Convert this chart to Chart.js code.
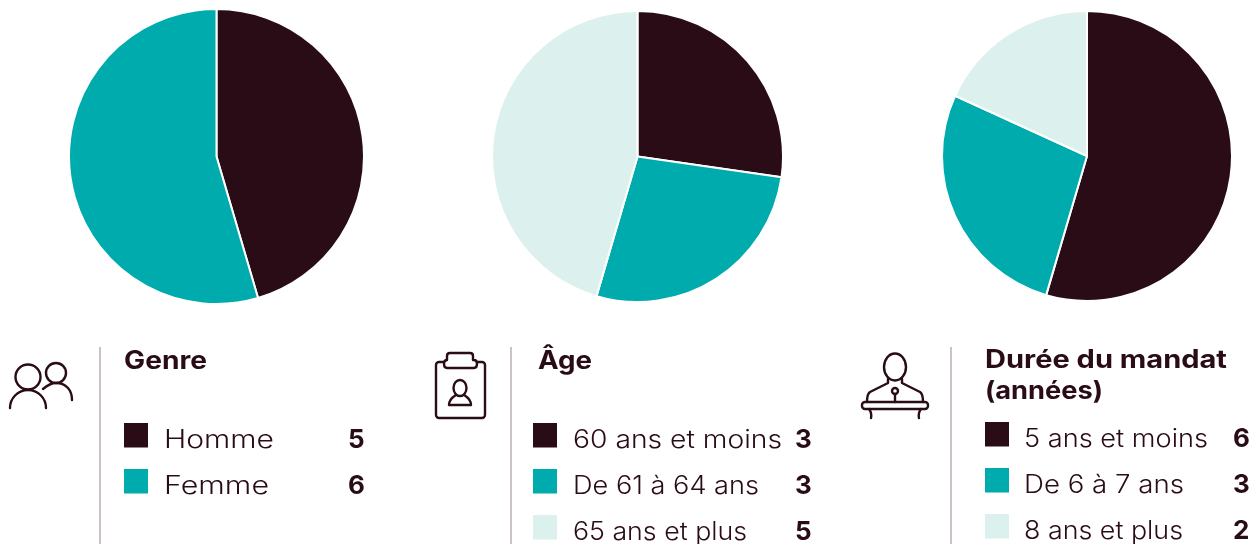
<!DOCTYPE html>
<html>
<head>
<meta charset="utf-8">
<script src="https://cdn.jsdelivr.net/npm/chart.js@4"></script>
<style>
html, body { margin: 0; padding: 0; background: #fff; overflow: hidden; }
#page { position: relative; width: 1259px; height: 544px; }
canvas { position: absolute; }
svg { position: absolute; left: 0; top: 0; }
text { font-family: Inter, "Open Sans", sans-serif; fill: #2a0c16; }
.title { font-size: 25px; font-weight: 700; }
.label { font-size: 25px; font-weight: 300; }
.value { font-size: 26px; font-weight: 700; }
.icon { fill: none; stroke: #2a0c16; stroke-width: 2.4; stroke-linecap: round; stroke-linejoin: round; }
</style>
</head>
<body>
<div id="page">
<canvas id="pie1"></canvas>
<canvas id="pie2"></canvas>
<canvas id="pie3"></canvas>
<svg id="overlay" width="1259" height="544">
	<path class="icon" d="M10 408a18 18 0 0 1 36 0"/>
	<circle class="icon" cx="28" cy="377" r="12.5"/>
	<circle class="icon" cx="56" cy="373" r="10"/>
	<path class="icon" d="M43 389Q50 383 56 383C66 383 72 390 72 400"/>
	<rect class="icon" x="436" y="362" width="49" height="56" rx="3"/>
	<path class="icon" style="fill:#fff" d="M447 360V356Q447 353 450 353H470Q473 353 473 356V360H474Q477 360 477 364T474 368H447Q444 368 444 364T447 360Z"/>
	<ellipse class="icon" cx="460" cy="388" rx="6.5" ry="8"/>
	<path class="icon" d="M449 405C449 399 453 397 456 395M471 405C471 399 467 397 464 395M449 405H471"/>
	<ellipse class="icon" cx="895" cy="367" rx="11" ry="13.5"/>
	<path class="icon" d="M888 379V383L870 392Q867 394 867 402M902 379V383L920 392Q923 394 923 402"/>
	<circle class="icon" cx="895" cy="391" r="3"/>
	<path class="icon" d="M895 394V402"/>
	<rect class="icon" x="862" y="402" width="66" height="7" rx="3"/>
	<path class="icon" d="M869 409Q872 413 871 418M921 409Q918 413 919 418"/>
</svg>
</div>
<script>
'use strict';

var colors = ['#2a0c16', '#00abae', '#dcf0ee'];

var genreLabels = ['Homme', 'Femme'];
var genreValues = [5, 6];
var ageLabels = ['60 ans et moins', 'De 61 à 64 ans', '65 ans et plus'];
var ageValues = [3, 3, 5];
var mandatLabels = ['5 ans et moins', 'De 6 à 7 ans', '8 ans et plus'];
var mandatValues = [6, 3, 2];

// Pies

function makePie(id, left, top, size, labels, values) {
	var el = document.getElementById(id);
	el.width = size;
	el.height = size;
	el.style.left = left + 'px';
	el.style.top = top + 'px';
	return new Chart(el, {
		type: 'pie',
		data: {
			labels: labels,
			datasets: [{
				data: values,
				backgroundColor: colors.slice(0, values.length),
				borderColor: '#fff',
				borderWidth: 2
			}]
		},
		options: {
			responsive: false,
			animation: false,
			layout: { padding: 0 },
			plugins: { legend: { display: false }, tooltip: { enabled: false } }
		}
	});
}

makePie('pie1', 68, 8, 297, genreLabels, genreValues);
makePie('pie2', 491, 10, 293, ageLabels, ageValues);
makePie('pie3', 941, 10, 292, mandatLabels, mandatValues);

// Legends, drawn as svg text. Inter is narrower than the original face, so each string
// gets stretched to the width it has in the picture.

var svg = document.getElementById('overlay');

function add(tag, attrs, content) {
	var node = document.createElementNS('http://www.w3.org/2000/svg', tag);
	Object.keys(attrs).forEach(function (k) { node.setAttribute(k, attrs[k]); });
	if (content !== undefined) node.textContent = content;
	svg.appendChild(node);
}

function text(x, y, cls, width, content) {
	add('text', { x: x, y: y, 'class': cls, textLength: width, lengthAdjust: 'spacingAndGlyphs' }, content);
}

function legend(opts, labels, values) {
	add('line', { x1: opts.rule, x2: opts.rule, y1: 347, y2: 544, stroke: '#b9aeb1', 'stroke-width': 1.5 });
	labels.forEach(function (label, i) {
		var base = opts.rows[i];
		add('rect', { x: opts.box, y: base - 25, width: 24, height: 24.5, fill: colors[i] });
		text(opts.text, base, 'label', opts.widths[i], label);
		add('text', { x: opts.num, y: base, 'class': 'value' }, values[i]);
	});
}

text(124, 369, 'title', 83, 'Genre');
text(538, 369, 'title', 54, 'Âge');
text(985, 368, 'title', 242, 'Durée du mandat');
text(985, 399, 'title', 118, '(années)');

legend({ rule: 100, box: 124, text: 164, num: 348, rows: [448, 494], widths: [110, 105] }, genreLabels, genreValues);
legend({ rule: 511, box: 533, text: 573, num: 795, rows: [448, 494, 540], widths: [209, 186, 174] }, ageLabels, ageValues);
legend({ rule: 951, box: 985, text: 1024, num: 1233, rows: [447, 493, 539], widths: [184, 160, 159] }, mandatLabels, mandatValues);
</script>
</body>
</html>
